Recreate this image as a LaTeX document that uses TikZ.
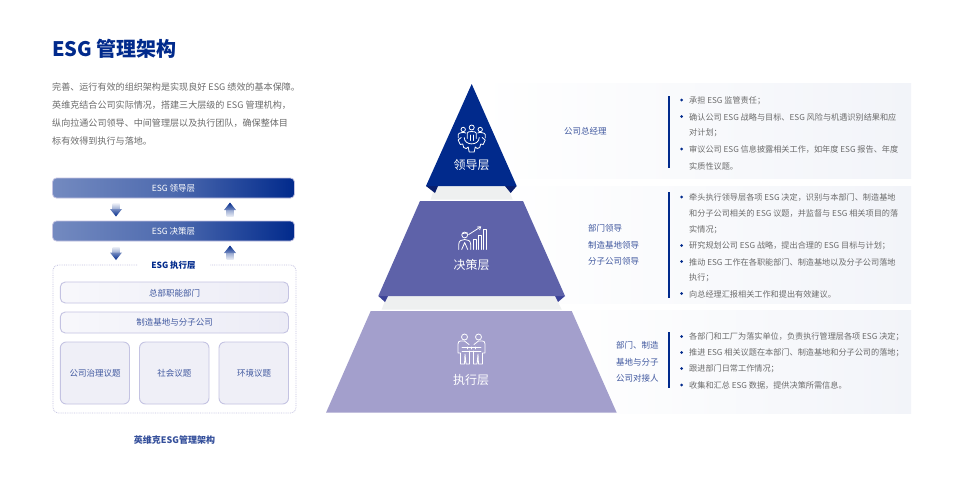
\documentclass[tikz,border=0pt]{standalone}
\usepackage{fontspec}
\setmainfont{Noto Sans CJK SC}
\definecolor{navy}{HTML}{012A8C}
\definecolor{navyd}{HTML}{0A1F6E}
\definecolor{midb}{HTML}{5E62A9}
\definecolor{midd}{HTML}{3C4397}
\definecolor{lowb}{HTML}{A39FCC}
\definecolor{greyt}{HTML}{6B6B6B}
\definecolor{bluet}{HTML}{40589F}
\definecolor{lav}{HTML}{C4C3E2}
\definecolor{band}{HTML}{EEF0F0}
\definecolor{panel}{HTML}{F2F4F9}
\definecolor{rowf}{HTML}{ECECF6}
\tikzset{
  panelbox/.style={draw=none,left color=white,right color=panel},
  sidebar/.style={draw=navy,line width=1.6pt},
  body/.style={anchor=west,inner sep=0pt,font=\fontsize{8.15}{10}\selectfont,text=greyt},
  intro/.style={anchor=west,inner sep=0pt,font=\fontsize{9.07}{10}\selectfont,text=greyt},
  role/.style={anchor=west,inner sep=0pt,font=\fontsize{8.5}{10}\selectfont,text=bluet},
  tier/.style={inner sep=0pt,text=white,font=\fontsize{12}{13}\selectfont},
  barbox/.style={rounded corners=4pt,draw=lav,line width=0.8pt,left color=navy!55!white,right color=navy,middle color=navy!70!white},
  barlabel/.style={inner sep=0pt,text=white,font=\fontsize{8.5}{10}\selectfont},
  rowbox/.style={rounded corners=5pt,draw=lav,line width=0.9pt,left color=white!60!rowf,right color=rowf},
  sqbox/.style={rounded corners=6pt,draw=lav,line width=0.9pt,fill=rowf!85!white},
  rowlabel/.style={inner sep=0pt,text=bluet,font=\fontsize{8.5}{10}\selectfont},
  dotbullet/.style={circle,fill=navy,inner sep=0pt,minimum size=3pt},
  ico/.style={draw=white,line width=0.8pt,fill=none,line join=round,line cap=round},
}
\newcommand{\BulletLine}[2]{\node[dotbullet] at (681.7,#1) {}; \node[body] at (689,#1+0.5) {#2};}
\newcommand{\ContLine}[2]{\node[body] at (689,#1+0.5) {#2};}
\begin{document}
\begin{tikzpicture}[x=1pt,y=-1pt]
\useasboundingbox (0,0) rectangle (960,480);
\fill[white] (0,0) rectangle (960,480);
% title and intro
\node[anchor=west,inner sep=0pt,text=navy,font=\fontsize{20}{21}\bfseries\selectfont] (title) at (52,48.5) {ESG 管理架构};
\node[intro] (i1) at (52,87) {完善、运行有效的组织架构是实现良好 ESG 绩效的基本保障。};
\node[intro] (i2) at (52,105) {英维克结合公司实际情况，搭建三大层级的 ESG 管理机构，};
\node[intro] (i3) at (52,123) {纵向拉通公司领导、中间管理层以及执行团队，确保整体目};
\node[intro] (i4) at (52,141) {标有效得到执行与落地。};
% panels
\path[panelbox] (478,83) rectangle (911,178.5);
\path[panelbox] (500,186) rectangle (911,303);
\path[panelbox] (560,310.5) rectangle (911,413);
\draw[sidebar] (669,96) -- (669,168);
\draw[sidebar] (669,192) -- (669,298);
\draw[sidebar] (669,332) -- (669,388);
% grey bands
\fill[band] (435,186) -- (507,186) -- (512.7,199.5) -- (430.7,199.5) -- cycle;
\fill[band] (386.7,296) -- (555,296) -- (561.7,309.5) -- (381.7,309.5) -- cycle;
% pyramid
\fill[navyd] (426,186) -- (435,193) -- (438,186) -- cycle;
\fill[navyd] (516.7,186) -- (510.7,193) -- (505,186) -- cycle;
\fill[navy] (471.7,84) -- (516.7,186) -- (426,186) -- cycle;
\fill[midd] (378.3,296) -- (385,302) -- (388,296) -- cycle;
\fill[midd] (565,296) -- (558,302) -- (555,296) -- cycle;
\fill[midb] (420,201) -- (523,201) -- (565,296) -- (378.3,296) -- cycle;
\fill[lowb] (370.7,311) -- (571.7,311) -- (616.7,412.7) -- (326,412.7) -- cycle;
% icon leader: people and gear
\begin{scope}[shift={(471.7,138.5)}]
  \draw[ico] (0,-11) circle (2.5);
  \draw[ico] (-8.5,-9) circle (2.2);
  \draw[ico] (8.5,-9) circle (2.2);
  \draw[ico] (-4.5,0) -- (-4.5,-5.5) .. controls (-4.5,-7.5) and (4.5,-7.5) .. (4.5,-5.5) -- (4.5,0);
  \draw[ico] (-1.5,-3.5) -- (-1.5,2) (1.5,-3.5) -- (1.5,2);
  \draw[ico] (-13.5,-0.5) -- (-13.5,-4) .. controls (-13.5,-6) and (-7,-6.5) .. (-6,-5.5);
  \draw[ico] (13.5,-0.5) -- (13.5,-4) .. controls (13.5,-6) and (7,-6.5) .. (6,-5.5);
  \draw[ico] (-7.5,-1) .. controls (-7.5,7.5) and (7.5,7.5) .. (7.5,-1);
  \draw[ico] (-10.5,-1) -- (-13.5,1.5) -- (-11.5,6) -- (-9,5.5) -- (-8,9) -- (-5.5,10) -- (-3.5,8.5) -- (-2.5,13.5) -- (2.5,13.5) -- (3.5,8.5) -- (5.5,10) -- (8,9) -- (9,5.5) -- (11.5,6) -- (13.5,1.5) -- (10.5,-1);
\end{scope}
\node[tier] (t1) at (471.7,165) {领导层};
% icon middle: worker and bars
\begin{scope}[shift={(471.7,238.5)}]
  \draw[ico] (-7,-3.5) circle (2.9);
  \draw[ico] (-9.5,-5) -- (-4,-5.5);
  \draw[ico] (-13,11) -- (-13,6) .. controls (-13,2) and (-10,1) .. (-7,1) .. controls (-4,1) and (-1,2) .. (-1,6) -- (-1,11);
  \draw[ico] (-10,11) -- (-7,4) -- (-4,11);
  \draw[ico] (1.5,11) -- (1.5,1) -- (4.5,1) -- (4.5,11);
  \draw[ico] (6.5,11) -- (6.5,-3) -- (9.5,-3) -- (9.5,11);
  \draw[ico] (11.5,11) -- (11.5,-9.5) -- (14.5,-9.5) -- (14.5,11);
  \draw[ico] (-3,-4) -- (8,-11);
  \draw[ico] (5.5,-11.5) -- (9,-11.8) -- (8,-8.8);
\end{scope}
\node[tier] (t2) at (471.7,265) {决策层};
% icon low: two people
\begin{scope}[shift={(471.5,350)}]
  \draw[ico] (-7,-13) circle (3);
  \draw[ico] (7,-13) circle (3);
  \draw[ico] (-2.5,-5.5) -- (-7,-9) -- (-11,-9) .. controls (-12.5,-9) and (-13.5,-8) .. (-13.5,-6) -- (-13.5,3) -- (-11,3) -- (-11,14) -- (-7,14) -- (-6.5,4) -- (-5.5,14) -- (-2,14) -- (-2,1);
  \draw[ico] (2.5,-5.5) -- (7,-9) -- (11,-9) .. controls (12.5,-9) and (13.5,-8) .. (13.5,-6) -- (13.5,3) -- (11,3) -- (11,14) -- (7,14) -- (6.5,4) -- (5.5,14) -- (2,14) -- (2,1);
  \draw[ico] (-9.5,-3) -- (9.5,-3) (-9.5,1.5) -- (9.5,1.5);
  \draw[ico] (-4,-3) -- (-4,-1) (0,-3) -- (0,-1) (4,-3) -- (4,-1);
\end{scope}
\node[tier] (t3) at (471,380) {执行层};
% role labels
\node[role] (r1) at (564,131.5) {公司总经理};
\node[role] (r2a) at (588,228.5) {部门领导};
\node[role] (r2b) at (588,245) {制造基地领导};
\node[role] (r2c) at (588,261.5) {分子公司领导};
\node[role] (r3a) at (616,345.5) {部门、制造};
\node[role] (r3b) at (616,362) {基地与分子};
\node[role] (r3c) at (616,378.5) {公司对接人};
% duty text
\BulletLine{100}{承担 ESG 监管责任；}
\BulletLine{116.5}{确认公司 ESG 战略与目标、ESG 风险与机遇识别结果和应}
\ContLine{132.5}{对计划；}
\BulletLine{149}{审议公司 ESG 信息披露相关工作，如年度 ESG 报告、年度}
\ContLine{165.5}{实质性议题。}
\BulletLine{197}{牵头执行领导层各项 ESG 决定，识别与本部门、制造基地}
\ContLine{213}{和分子公司相关的 ESG 议题，并监督与 ESG 相关项目的落}
\ContLine{229}{实情况；}
\BulletLine{245.5}{研究规划公司 ESG 战略，提出合理的 ESG 目标与计划；}
\BulletLine{261.5}{推动 ESG 工作在各职能部门、制造基地以及分子公司落地}
\ContLine{277.5}{执行；}
\BulletLine{293.5}{向总经理汇报相关工作和提出有效建议。}
\BulletLine{336.5}{各部门和工厂为落实单位，负责执行管理层各项 ESG 决定；}
\BulletLine{352.5}{推进 ESG 相关议题在本部门、制造基地和分子公司的落地；}
\BulletLine{368.5}{跟进部门日常工作情况；}
\BulletLine{385}{收集和汇总 ESG 数据，提供决策所需信息。}
% left diagram
\path[barbox] (52.5,178) rectangle (294.5,198);
\node[barlabel] (b1) at (173.5,188) {ESG 领导层};
\path[barbox] (52.5,221) rectangle (294.5,241);
\node[barlabel] (b2) at (173.5,231) {ESG 决策层};
\foreach \yy in {203.5,247} {
  \shade[top color=navy!8!white,bottom color=navy!45!white] (112.5,\yy) rectangle (119.5,\yy+6.5);
  \shade[top color=navy!55!white,bottom color=navy] (110,\yy+5.5) -- (122,\yy+5.5) -- (116,\yy+13) -- cycle;
}
\foreach \yy in {202.5,245.5} {
  \shade[top color=navy!45!white,bottom color=navy!8!white] (226.5,\yy+6.5) rectangle (233.5,\yy+14);
  \shade[top color=navy,bottom color=navy!55!white] (230,\yy) -- (236,\yy+7.5) -- (224,\yy+7.5) -- cycle;
}
\draw[lav,densely dotted,line width=0.8pt,rounded corners=5pt] (137,265) -- (53,265) -- (53,413) -- (296,413) -- (296,265) -- (210,265);
\node[inner sep=0pt,text=navy,font=\fontsize{8.5}{10}\bfseries\selectfont] (b3) at (173.5,265) {ESG 执行层};
\path[rowbox] (60.3,282) rectangle (288.5,303);
\node[rowlabel] (c1) at (174.5,293) {总部职能部门};
\path[rowbox] (60.3,312) rectangle (288.5,333);
\node[rowlabel] (c2) at (174.5,322.5) {制造基地与分子公司};
\path[sqbox] (60.3,342) rectangle (129.5,404);
\node[rowlabel] (s1) at (95,373) {公司治理议题};
\path[sqbox] (139.5,342) rectangle (209,404);
\node[rowlabel] (s2) at (174.3,373) {社会议题};
\path[sqbox] (219,342) rectangle (288.5,404);
\node[rowlabel] (s3) at (254,373) {环境议题};
\node[inner sep=0pt,text=bluet!80!navy,font=\fontsize{9}{10}\bfseries\selectfont] (cap) at (174.5,440.5) {英维克ESG管理架构};
\end{tikzpicture}
\end{document}
